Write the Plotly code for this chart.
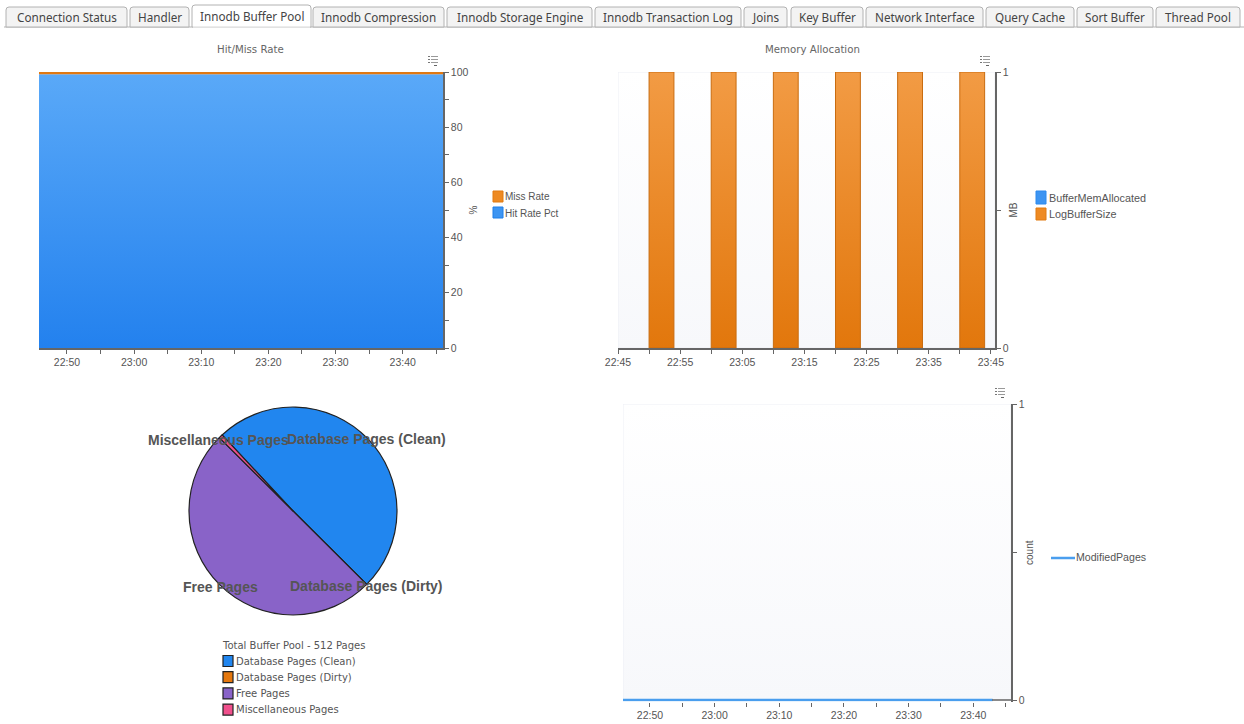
import plotly.graph_objects as go

W, H = 1244, 724
DAY = "2024-01-01 "
TEXT = "#555555"
AXIS = "#666666"
SANS = "Liberation Sans"

# ---- data ----
tab_names = ["Connection Status", "Handler", "Innodb Buffer Pool", "Innodb Compression",
             "Innodb Storage Engine", "Innodb Transaction Log", "Joins", "Key Buffer",
             "Network Interface", "Query Cache", "Sort Buffer", "Thread Pool"]
tab_edges = [(6, 127), (130, 189), (192, 311), (313, 444), (447, 592), (595, 741),
             (744, 787), (791, 863), (866, 983), (986, 1074), (1077, 1153), (1156, 1240)]

rate_times = ["22:45:50", "22:50", "22:55", "23:00", "23:05", "23:10", "23:15", "23:20",
              "23:25", "23:30", "23:35", "23:40", "23:45", "23:46"]
hit_rate = [99.2] * 14
miss_rate = [0.8] * 14

tick_times_a = ["22:50", "22:55", "23:00", "23:05", "23:10", "23:15", "23:20", "23:25",
                "23:30", "23:35", "23:40", "23:45"]
tick_text_a = ["22:50", "", "23:00", "", "23:10", "", "23:20", "", "23:30", "", "23:40", ""]
tick_times_b = ["22:45", "22:50", "22:55", "23:00", "23:05", "23:10", "23:15", "23:20", "23:25",
                "23:30", "23:35", "23:40", "23:45"]
tick_text_b = ["22:45", "", "22:55", "", "23:05", "", "23:15", "", "23:25", "", "23:35", "", "23:45"]

mem_starts = ["22:50", "23:00", "23:10", "23:20", "23:30", "23:40"]
mem_ends = ["22:54", "23:04", "23:14", "23:24", "23:34", "23:44"]
log_buffer = [1, 1, 1, 1, 1, 1]
buffer_mem = [0, 0, 0, 0, 0, 0]

pool_labels = ["Database Pages (Clean)", "Database Pages (Dirty)", "Free Pages", "Miscellaneous Pages"]
pool_values = [253, 0, 256, 3]
pool_colors = ["#2186EF", "#E5780E", "#8963C8", "#F0508C"]

mod_times = ["22:45:50", "22:50", "22:55", "23:00", "23:05", "23:10", "23:15", "23:20",
             "23:25", "23:30", "23:35", "23:40", "23:43"]
mod_pages = [0] * 13


def t(s):
    return DAY + s


def px(x):
    return x / W


def py(y):
    return 1 - y / H


def dom_x(a, b):
    return [px(a), px(b)]


def dom_y(top, bottom):
    return [py(bottom), py(top)]


fig = go.Figure()
shapes, annos = [], []


def text(x, y, s, size=10, color=TEXT, family=SANS, anchor="center", angle=0):
    annos.append(dict(x=px(x), y=py(y), xref="paper", yref="paper", text=s, showarrow=False,
                      xanchor=anchor, yanchor="middle", textangle=angle, borderpad=0, borderwidth=0,
                      font=dict(size=size, color=color, family=family)))


def rect(x0, y0, x1, y1, fill, line, width=1):
    shapes.append(dict(type="rect", xref="paper", yref="paper", x0=px(x0), x1=px(x1), y0=py(y0), y1=py(y1),
                       fillcolor=fill, line=dict(color=line, width=width)))


def menu_icon(x, y):
    for i in range(3):
        rect(x, y + i * 3, x + 2, y + i * 3 + 1, "#777777", "#777777", 0)
        rect(x + 3, y + i * 3, x + 10, y + i * 3 + 1, "#999999", "#999999", 0)
    rect(x + 6, y + 9, x + 9, y + 10, "#666666", "#666666", 0)


def tab(x0, x1, top, active):
    b = 27
    pth = (f"M {px(x0)},{py(b)} L {px(x0)},{py(top + 3)} Q {px(x0)},{py(top)} {px(x0 + 3)},{py(top)} "
           f"L {px(x1 - 3)},{py(top)} Q {px(x1)},{py(top)} {px(x1)},{py(top + 3)} L {px(x1)},{py(b)} Z")
    shapes.append(dict(type="path", xref="paper", yref="paper", path=pth,
                       fillcolor="#FFFFFF" if active else "#F3F3F3", line=dict(color="#B2B2B2", width=1)))


# ---- tabs ----
shapes.append(dict(type="line", xref="paper", yref="paper", x0=px(4), x1=1, y0=py(27), y1=py(27),
                   line=dict(color="#B2B2B2", width=1)))
for i, (name, (a, b)) in enumerate(zip(tab_names, tab_edges)):
    active = name == "Innodb Buffer Pool"
    tab(a, b, 5 if active else 7, active)
    text((a + b) / 2, 16 if active else 17.5, name, size=11.7, color="#444444", family="Noto Sans")

shapes.append(dict(type="line", xref="paper", yref="paper", x0=px(193), x1=px(310), y0=py(27), y1=py(27),
                   line=dict(color="#FFFFFF", width=1)))

# ---- Hit/Miss ----
fig.add_trace(go.Scatter(x=[t(v) for v in rate_times], y=hit_rate, name="Hit Rate Pct", stackgroup="r",
                         mode="lines", line=dict(color="#3D86D8", width=0),
                         fillgradient=dict(type="vertical", start=0, stop=100,
                                           colorscale=[[0, "#2381EE"], [1, "#5AA9F8"]]),
                         xaxis="x", yaxis="y", showlegend=False))
fig.add_trace(go.Scatter(x=[t(v) for v in rate_times], y=miss_rate, name="Miss Rate", stackgroup="r",
                         mode="lines", line=dict(color="#DD7A16", width=1.5), fillcolor="#E5780E",
                         xaxis="x", yaxis="y", showlegend=False))


# ---- backgrounds of the two pale plots ----
def background(xa, ya, x0, x1):
    fig.add_trace(go.Scatter(x=[t(x0), t(x1), t(x1), t(x0), t(x0)], y=[0, 0, 1, 1, 0], fill="toself", mode="lines",
                             line=dict(color="#EEF0F5", width=1), hoverinfo="skip", showlegend=False,
                             fillgradient=dict(type="vertical", start=0, stop=1,
                                               colorscale=[[0, "#F7F8FB"], [1, "#FFFFFF"]]),
                             xaxis=xa, yaxis=ya))


background("x2", "y2", "22:45", "23:45:40")


def bar_outline(starts, ends, values):
    xs, ys = [], []
    for a, b, v in zip(starts, ends, values):
        xs += [t(a), t(a), t(b), t(b), t(a), None]
        ys += [0, v, v, 0, 0, None]
    return xs, ys


bx, by = bar_outline(mem_starts, mem_ends, buffer_mem)
fig.add_trace(go.Scatter(x=bx, y=by, name="BufferMemAllocated", mode="lines", line=dict(width=0, color="#2186EF"),
                         xaxis="x2", yaxis="y2", showlegend=False))
bx, by = bar_outline(mem_starts, mem_ends, log_buffer)
fig.add_trace(go.Scatter(x=bx, y=by, name="LogBufferSize", mode="lines", fill="toself",
                         line=dict(color="#C96C10", width=1),
                         fillgradient=dict(type="vertical", start=0, stop=1,
                                           colorscale=[[0, "#E2770C"], [1, "#F29B44"]]),
                         xaxis="x2", yaxis="y2", showlegend=False))

# ---- Pie ----
fig.add_trace(go.Pie(labels=pool_labels, values=pool_values, sort=False, direction="clockwise", rotation=-43,
                     marker=dict(colors=pool_colors, line=dict(color="#222222", width=1.2)),
                     textinfo="none", showlegend=False, automargin=False,
                     domain=dict(x=dom_x(189, 397), y=dom_y(407, 615))))

# ---- Modified pages ----
background("x3", "y3", "22:45:50", "23:45:50")
fig.add_trace(go.Scatter(x=[t(v) for v in mod_times], y=mod_pages, name="ModifiedPages", mode="lines",
                         line=dict(color="#4A9EEE", width=2.5), cliponaxis=False,
                         xaxis="x3", yaxis="y3", showlegend=False))


def xaxis(domain, rng, vals, labels, anchor, showline=True):
    return dict(domain=domain, range=rng, type="date", tickmode="array", tickvals=[t(v) for v in vals],
                ticktext=labels, automargin=False, anchor=anchor, layer="below traces",
                showgrid=False, zeroline=False, showline=showline, linecolor=AXIS, linewidth=1.5,
                ticks="outside", ticklen=4, tickcolor=AXIS, tickwidth=1,
                tickfont=dict(size=10.5, color=TEXT, family=SANS), fixedrange=True)


def yaxis(domain, rng, xa, major, minor, title, standoff):
    return dict(domain=domain, range=rng, anchor=xa, side="right", tick0=0, dtick=major, automargin=False,
                layer="below traces",
                showgrid=False, zeroline=False, showline=True, linecolor=AXIS, linewidth=1.5,
                ticks="outside", ticklen=4, tickcolor=AXIS, tickwidth=1,
                minor=dict(tick0=0, dtick=minor, ticks="outside", ticklen=4, tickcolor=AXIS, showgrid=False),
                tickfont=dict(size=10.5, color=TEXT, family=SANS), fixedrange=True,
                title=dict(text=title, standoff=standoff, font=dict(size=10, color=TEXT, family=SANS)))


# ---- chart texts ----
text(250, 49, "Hit/Miss Rate", size=10.2, family="DejaVu Sans", color="#666666")
text(812, 49, "Memory Allocation", size=10.2, family="DejaVu Sans", color="#666666")
menu_icon(428, 56)
menu_icon(980, 56)
menu_icon(995, 388)

rect(493, 191, 503, 202, "#EE8A22", "#E17A10")
text(505, 197, "Miss Rate", anchor="left")
rect(493, 207, 503, 218, "#3D95F2", "#1F7FE8")
text(505, 213, "Hit Rate Pct", anchor="left")

rect(1036, 191, 1046, 204, "#3D95F2", "#2C8AEE")
text(1049, 198, "BufferMemAllocated", size=10.8, anchor="left")
rect(1036, 208, 1046, 220, "#EE8A22", "#E17A10")
text(1049, 214, "LogBufferSize", size=10.8, anchor="left")

shapes.append(dict(type="line", xref="paper", yref="paper", x0=px(1051), x1=px(1075), y0=py(558), y1=py(558),
                   line=dict(color="#4A9EEE", width=2.5)))
text(1076, 557, "ModifiedPages", size=10.6, anchor="left")

# grey end of the lower plot's baseline, past the last sample of its line
shapes.append(dict(type="line", xref="paper", yref="paper", x0=px(992), x1=px(1011), y0=py(700), y1=py(700),
                   line=dict(color=AXIS, width=1.5)))

for x_, y_, lab in [(366, 439, "Database Pages (Clean)"), (366, 586, "Database Pages (Dirty)"),
                    (220, 587, "Free Pages"), (218, 440, "Miscellaneous Pages")]:
    text(x_, y_, "<b>" + lab + "</b>", size=14, family="Liberation Sans", color="#555555")

text(222, 645, "Total Buffer Pool - 512 Pages", size=10, family="DejaVu Sans", anchor="left")
for i, (lab, col) in enumerate(zip(pool_labels, pool_colors)):
    y = 661 + i * 16.2
    rect(223, y - 5.5, 233, y + 5.5, col, "#222222", 1.2)
    text(236, y, lab, size=10, family="DejaVu Sans", anchor="left")

fig.update_layout(
    width=W, height=H, autosize=False, margin=dict(l=0, r=0, t=0, b=0), paper_bgcolor="white", plot_bgcolor="rgba(0,0,0,0)",
    showlegend=False, shapes=shapes, annotations=annos,
    xaxis=xaxis(dom_x(39, 443), [t("22:45:50"), t("23:46")], tick_times_a, tick_text_a, "y"),
    yaxis=yaxis(dom_y(72, 348), [0, 100], "x", 20, 10, "%", 2),
    xaxis2=xaxis(dom_x(618, 995), [t("22:45"), t("23:45:40")], tick_times_b, tick_text_b, "y2"),
    yaxis2=yaxis(dom_y(72, 348), [0, 1], "x2", 1, 0.5, "MB", 2),
    xaxis3=xaxis(dom_x(623, 1011), [t("22:45:50"), t("23:45:50")], tick_times_a, tick_text_a, "y3", showline=False),
    yaxis3=yaxis(dom_y(404, 701.5), [-0.005, 1], "x3", 1, 0.5, "count", 2),
)

fig.write_html("out.html", config={"displayModeBar": False}, post_script="document.body.style.margin='0';")
